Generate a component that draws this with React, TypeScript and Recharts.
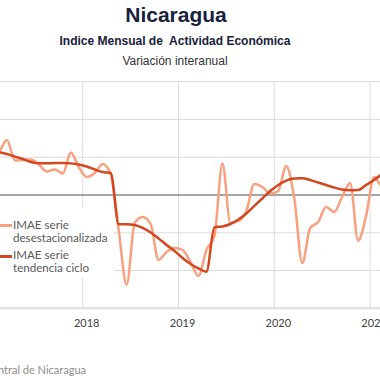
import { CartesianGrid, Line, LineChart, ReferenceLine, XAxis, YAxis } from "recharts"

// meses desde ene-2017 (0 = ene 2017); cada punto se dibuja a mitad de mes
const months = Array.from({ length: 51 }, (_, i) => i)

// IMAE serie desestacionalizada, variación interanual (%)
const desestacionalizada = [
  3.92, 4.55, 5.82, 3.65, 3.7, 3.76, 3.23, 2.49, 2.7, 2.28, 4.5, 2.96,
  1.9, 2.33, 3.28, 2.22, -3.7, -9.52, -2.96, -2.33, -3.07, -6.88, -6.03, -5.61,
  -5.82, -7.09, -8.57, -5.82, -4.34, 3.33, -2.96, -2.75, -1.69, 1.16, 0.85, 0.16,
  0.42, 3.07, -0.32, -7.2, -3.49, -2.86, -1.27, -1.8, -0.21, 1.27, -4.84, -2.22,
  1.9, 0.95, 1.16,
]

// IMAE serie tendencia ciclo, variación interanual (%)
const tendencia = [
  4.76, 4.55, 4.34, 4.07, 3.81, 3.49, 3.35, 3.35, 3.39, 3.39, 3.35, 3.23,
  3.02, 2.7, 2.43, 2.33, -3.1, -3.1, -3.17, -3.49, -3.97, -4.6, -5.29, -5.93,
  -6.67, -7.3, -7.78, -8.12, -3.42, -3.33, -3.07, -2.59, -1.96, -1.16, -0.37, 0.42,
  1.06, 1.53, 1.75, 1.77, 1.59, 1.32, 1.06, 0.79, 0.58, 0.5, 0.53, 1.06,
  1.59, 2.22, 2.86,
]

const yearTicks = [0, 12, 24, 36, 48]
const yearLabels = ["2017", "2018", "2019", "2020", "2021"]
const yTicks = [-12, -8, -4, 0, 4, 8, 12]

const data = months.map((m, i) => ({
  x: m + 0.5,
  des: desestacionalizada[i],
  ten: tendencia[i],
}))

const LIGHT = "#F9A07F"
const DARK = "#D4461D"
const axisFont = "Lato, 'Open Sans', sans-serif"

const YearTick = ({ x, y, payload }: any) => {
  const idx = yearTicks.indexOf(payload.value)
  return (
    <text x={x + 4} y={y + 17} textAnchor="middle" fontSize={11} fontFamily={axisFont} fill="#404040">
      {yearLabels[idx]}
    </text>
  )
}

export default function App() {
  return (
    <div
      style={{
        position: "absolute",
        left: 0,
        top: 0,
        width: 380,
        height: 380,
        overflow: "hidden",
        background: "#fff",
        fontFamily: "'Liberation Sans', Arial, sans-serif",
      }}
    >
      <div style={{ position: "absolute", left: 0, width: 352, top: 3, textAlign: "center", fontSize: 21, fontWeight: 700, color: "#17213b" }}>
        Nicaragua
      </div>
      <div style={{ position: "absolute", left: 0, width: 350, top: 34, textAlign: "center", fontSize: 12, fontWeight: 700, color: "#17213b", whiteSpace: "pre" }}>
        {"Indice Mensual de  Actividad Económica"}
      </div>
      <div style={{ position: "absolute", left: 0, width: 350, top: 54, textAlign: "center", fontSize: 12, color: "#333" }}>
        Variación interanual
      </div>

      <div style={{ position: "absolute", left: -13.4, top: 0 }}>
        <LineChart
          width={407}
          height={340}
          data={data}
          margin={{ top: 81.7, right: 0, left: 0, bottom: 1.7 }}
          style={{ overflow: "visible" }}
        >
          <CartesianGrid stroke="#dcdcdc" strokeWidth={1} />
          <XAxis
            dataKey="x"
            type="number"
            domain={[0, 51]}
            ticks={yearTicks}
            height={30}
            tickSize={0}
            tickLine={false}
            axisLine={{ stroke: "#dedede", strokeWidth: 2 }}
            tick={<YearTick />}
          />
          <YAxis hide type="number" domain={[-12, 12]} ticks={yTicks} />
          <ReferenceLine y={0} stroke="#8c8c8c" strokeWidth={1.3} />
          <Line
            type="monotone"
            dataKey="des"
            stroke={LIGHT}
            strokeWidth={2.5}
            dot={false}
            isAnimationActive={false}
          />
          <Line
            type="monotone"
            dataKey="ten"
            stroke={DARK}
            strokeWidth={2.5}
            dot={false}
            isAnimationActive={false}
          />
        </LineChart>
      </div>

      <div
        style={{
          position: "absolute",
          left: 0,
          top: 208,
          width: 114,
          height: 70,
          background: "#fff",
          fontFamily: axisFont,
          fontSize: 11.6,
          color: "#595959",
          lineHeight: "12.5px",
        }}
      >
        <div style={{ position: "absolute", left: 0, top: 16, width: 12, height: 2.5, background: LIGHT }} />
        <div style={{ position: "absolute", left: 13, top: 11 }}>
          IMAE serie
          <br />
          desestacionalizada
        </div>
        <div style={{ position: "absolute", left: 0, top: 47, width: 12, height: 2.5, background: DARK }} />
        <div style={{ position: "absolute", left: 13, top: 41 }}>
          IMAE serie
          <br />
          tendencia ciclo
        </div>
      </div>

      <div
        style={{
          position: "absolute",
          right: 380 - 86,
          top: 363,
          whiteSpace: "nowrap",
          fontFamily: axisFont,
          fontSize: 11,
          color: "#8c8c8c",
        }}
      >
        Fuente: Banco Central de Nicaragua
      </div>
    </div>
  )
}
